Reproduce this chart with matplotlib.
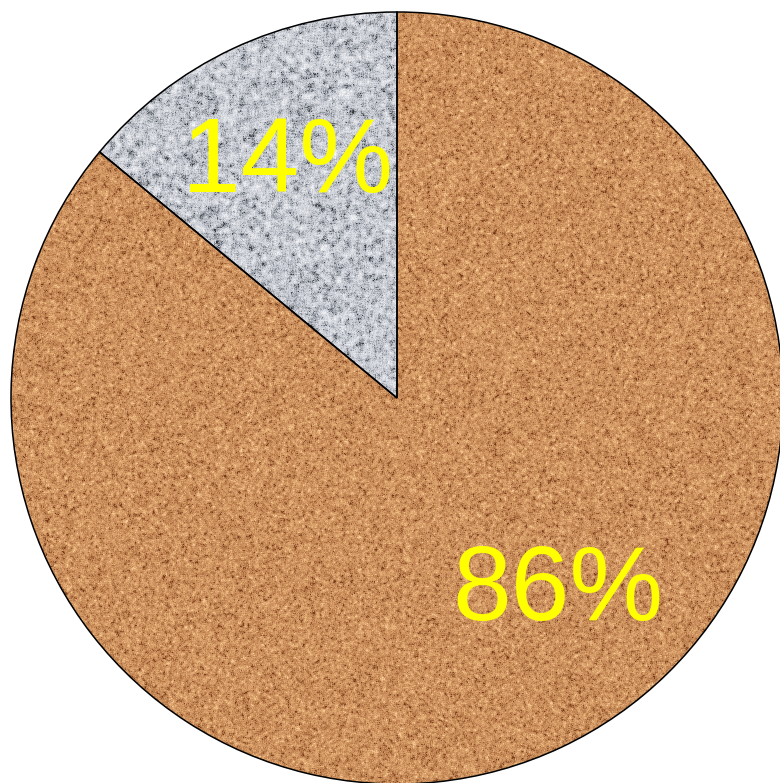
import numpy as np
import matplotlib
matplotlib.use('Agg')
import matplotlib.pyplot as plt
from matplotlib.colors import LinearSegmentedColormap

# Shares of the two materials
labels = ['Sand', 'Stone']
shares = [86, 14]
label_xy = [(558, 163), (287, 591)]  # text baselines, in pixel units of the axes

W, H = 780, 783
cx, cy, r = 397, 385, 386

fig = plt.figure(figsize=(W / 100, H / 100), dpi=100)
ax = fig.add_axes([0, 0, 1, 1])

wedges, _ = ax.pie(shares, startangle=90, counterclock=False,
                   center=(cx, cy), radius=r,
                   colors=['#cd915f', '#bfc3c8'],
                   wedgeprops=dict(edgecolor='black', linewidth=1.1))
ax.set_xlim(0, W)
ax.set_ylim(0, H)
ax.set_aspect('equal')
ax.axis('off')


def grain(seed, blur):
    # speckled surface: gaussian noise softened with a small box blur
    rng = np.random.default_rng(seed)
    z = rng.normal(size=(H, W))
    out = np.zeros_like(z)
    for dy in range(-blur, blur + 1):
        for dx in range(-blur, blur + 1):
            out += np.roll(np.roll(z, dy, 0), dx, 1)
    out = (out - out.mean()) / out.std()
    # a touch of fine speckle on top
    out = 0.8 * out + 0.6 * rng.normal(size=(H, W))
    return out


sand = LinearSegmentedColormap.from_list('sand', [
    (0.0, (0.45, 0.22, 0.10)),
    (0.30, (0.72, 0.48, 0.29)),
    (0.55, (0.82, 0.59, 0.39)),
    (0.80, (0.90, 0.69, 0.47)),
    (1.0, (0.97, 0.80, 0.60)),
])
stone = LinearSegmentedColormap.from_list('stone', [
    (0.0, (0.20, 0.21, 0.23)),
    (0.25, (0.58, 0.60, 0.63)),
    (0.50, (0.78, 0.79, 0.82)),
    (0.75, (0.87, 0.88, 0.90)),
    (1.0, (0.96, 0.96, 0.97)),
])

textures = [(grain(3, 1), sand, 3.0), (grain(7, 2), stone, 3.0)]
for w, (tex, cmap, lim) in zip(wedges, textures):
    im = ax.imshow(tex, cmap=cmap, vmin=-lim, vmax=lim, origin='upper',
                   extent=(0, W, 0, H), interpolation='bilinear', zorder=1)
    im.set_clip_path(w)
    w.set_zorder(2)
    w.set_facecolor('none')

for s, (tx, ty) in zip(shares, label_xy):
    ax.text(tx, ty, f'{s}%', color='#ffff00', fontsize=76,
            family='Liberation Sans', ha='center', va='baseline', zorder=3)

fig.savefig('out.png', dpi=100)
